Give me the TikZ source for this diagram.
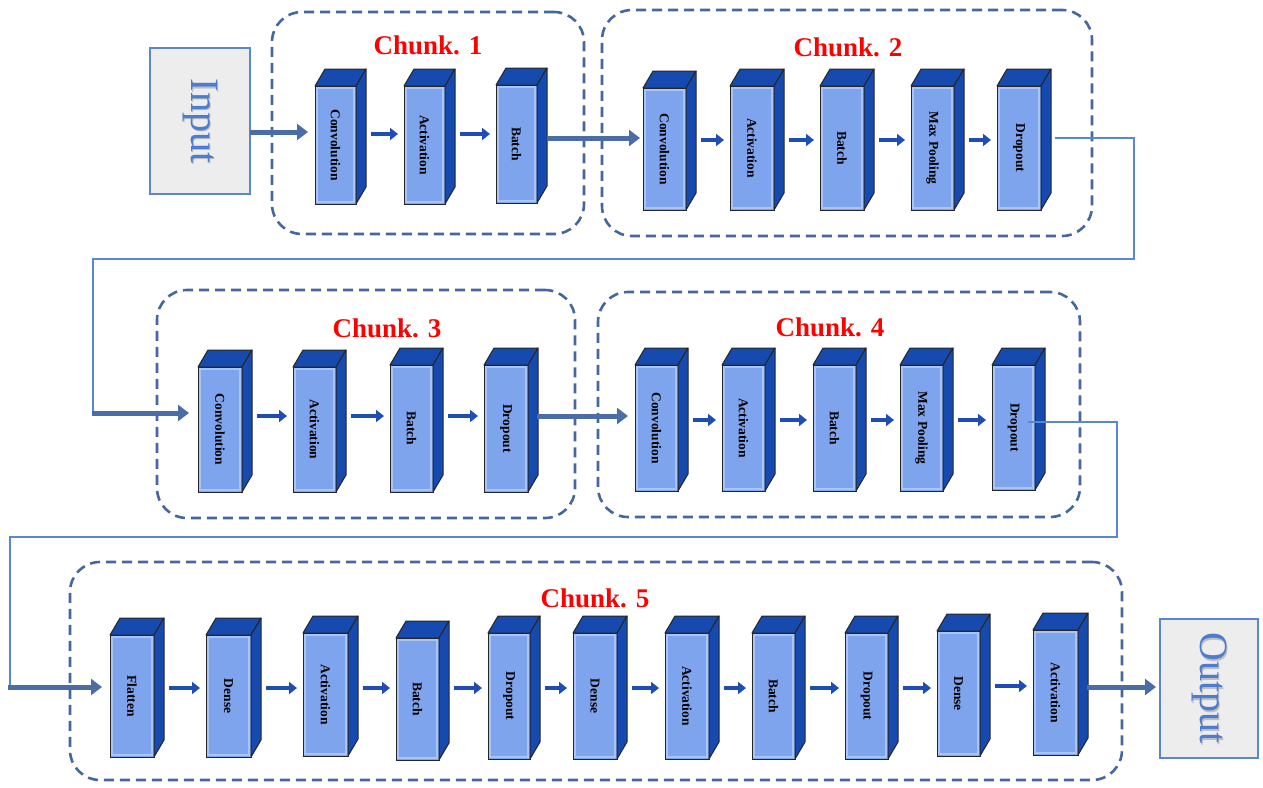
\documentclass[tikz,border=0pt]{standalone}
\usepackage{fontspec}
\setmainfont{Liberation Serif}
\usetikzlibrary{arrows.meta,calc}

\definecolor{dashblue}{HTML}{43679E}
\definecolor{steelblue}{HTML}{4A6DA7}
\definecolor{lineblue}{HTML}{5987D6}
\definecolor{arrowblue}{HTML}{1D4DB5}
\definecolor{frontblue}{HTML}{7EA4EE}
\definecolor{glowblue}{HTML}{A9C5F7}
\definecolor{darkblue}{HTML}{164AAE}
\definecolor{ioborder}{HTML}{5A86D0}
\definecolor{iofill}{HTML}{EDEDED}
\definecolor{iotext}{HTML}{4E7DD0}

\tikzset{
  front/.style={draw=black!85, line width=1pt, fill=frontblue, inner sep=0pt, outer sep=0pt},
  glow/.style={draw=glowblue, line width=1.2pt},
  face/.style={fill=darkblue, draw=black!85, line width=1pt, line join=round},
  lbl/.style={rotate=-90, font=\bfseries\fontsize{13.5}{15}\selectfont, text=black, inner sep=0pt},
  chunkbox/.style={draw=dashblue, dash pattern=on 10pt off 6pt, line width=2.6pt,
    rounded corners=30pt, inner sep=0pt, outer sep=0pt},
  chunktitle/.style={text=red, font=\bfseries\fontsize{27}{30}\selectfont, inner sep=0pt},
  smallarrow/.style={draw=arrowblue, line width=4pt, -{Triangle[length=8pt,width=12pt]}},
  bigarrow/.style={draw=steelblue, line width=5pt, -{Triangle[length=11pt,width=16pt]}},
  thinline/.style={draw=lineblue, line width=2pt, line join=miter},
  iobox/.style={draw=ioborder, fill=iofill, line width=2.5pt, inner sep=0pt, outer sep=0pt},
  iolabel/.style={rotate=-90, text=iotext, font=\fontsize{40}{44}\selectfont, inner sep=0pt},
}

% a layer drawn as a box: name, left x, right x, top y, bottom y, label
\newcommand{\layer}[6]{%
  \node[front, minimum width={#3-#2}, minimum height={#5-#4}] (#1)
    at ({(#2+#3)/2},{(#4+#5)/2}) {};
  \draw[glow] ([shift={(2,2)}]#1.north west) rectangle ([shift={(-2,-2)}]#1.south east);
  \filldraw[face] (#1.north west) -- (#1.north east) -- ++(10,-17)
    -- ([shift={(10,-17)}]#1.north west) -- cycle;
  \filldraw[face] (#1.north east) -- (#1.south east) -- ++(10,-17)
    -- ([shift={(10,-17)}]#1.north east) -- cycle;
  \node[lbl] at (#1) {#6};
}

% dashed group frame: name, left x, right x, top y, bottom y
\newcommand{\chunkframe}[5]{%
  \node[chunkbox, minimum width={#3-#2}, minimum height={#5-#4}] (#1)
    at ({(#2+#3)/2},{(#4+#5)/2}) {};
}

% short arrow between two layers of a row at height #3
\newcommand{\link}[3]{%
  \draw[smallarrow] ($(#1.east |- 0,#3)+(15,0)$) -- ($(#2.west |- 0,#3)+(-6,0)$);
}

\begin{document}
\begin{tikzpicture}[x=1pt,y=-1pt]
\useasboundingbox (0,0) rectangle (1263,787);

% group frames
\chunkframe{ch1}{272}{584}{12}{234}
\chunkframe{ch2}{602}{1092}{10}{236}
\chunkframe{ch3}{157}{575}{290}{518}
\chunkframe{ch4}{598}{1080}{292}{517}
\chunkframe{ch5}{70}{1122}{562}{780}

\node[chunktitle] (t1) at (428,45) {Chunk. 1};
\node[chunktitle] (t2) at (848,47) {Chunk. 2};
\node[chunktitle] (t3) at (387,328) {Chunk. 3};
\node[chunktitle] (t4) at (830,327) {Chunk. 4};
\node[chunktitle] (t5) at (595,598) {Chunk. 5};

% input and output
\node[iobox, minimum width=100, minimum height=146] (in) at (200,121) {};
\node[iolabel, text=black!25] at ([shift={(1.5,1.5)}]in.center) {Input};
\node[iolabel] at (in.center) {Input};
\node[iobox, minimum width=98, minimum height=139] (out) at (1209,688.5) {};
\node[iolabel, text=black!25] at ([shift={(1.5,1.5)}]out.center) {Output};
\node[iolabel] at (out.center) {Output};

% chunk 1
\layer{c1a}{315}{356}{86}{204}{Convolution}
\layer{c1b}{404}{445}{86}{204}{Activation}
\layer{c1c}{496}{537}{85}{203}{Batch}

% chunk 2
\layer{c2a}{643}{686}{88}{210}{Convolution}
\layer{c2b}{730}{774}{86}{210}{Activation}
\layer{c2c}{820}{864}{86}{210}{Batch}
\layer{c2d}{911}{954}{86}{210}{Max Pooling}
\layer{c2e}{997}{1041}{86}{210}{Dropout}

% chunk 3
\layer{c3a}{198}{242}{367}{492}{Convolution}
\layer{c3b}{293}{336}{367}{492}{Activation}
\layer{c3c}{390}{433}{365}{492}{Batch}
\layer{c3d}{484}{528}{365}{492}{Dropout}

% chunk 4
\layer{c4a}{635}{678}{365}{491}{Convolution}
\layer{c4b}{722}{765}{365}{491}{Activation}
\layer{c4c}{813}{856}{365}{491}{Batch}
\layer{c4d}{900}{943}{365}{491}{Max Pooling}
\layer{c4e}{992}{1035}{365}{490}{Dropout}

% chunk 5
\layer{c5a}{110}{154}{635}{757}{Flatten}
\layer{c5b}{206}{251}{635}{757}{Dense}
\layer{c5c}{303}{348}{633}{756}{Activation}
\layer{c5d}{396}{439}{638}{760}{Batch}
\layer{c5e}{488}{530}{633}{759}{Dropout}
\layer{c5f}{573}{617}{633}{759}{Dense}
\layer{c5g}{665}{709}{633}{759}{Activation}
\layer{c5h}{752}{795}{633}{759}{Batch}
\layer{c5i}{845}{888}{633}{759}{Dropout}
\layer{c5j}{937}{980}{631}{756}{Dense}
\layer{c5k}{1033}{1078}{630}{755}{Activation}

% arrows inside the groups
\link{c1a}{c1b}{134}
\link{c1b}{c1c}{134}
\link{c2a}{c2b}{140}
\link{c2b}{c2c}{140}
\link{c2c}{c2d}{140}
\link{c2d}{c2e}{140}
\link{c3a}{c3b}{416}
\link{c3b}{c3c}{416}
\link{c3c}{c3d}{416}
\link{c4a}{c4b}{420}
\link{c4b}{c4c}{420}
\link{c4c}{c4d}{420}
\link{c4d}{c4e}{420}
\link{c5a}{c5b}{688}
\link{c5b}{c5c}{688}
\link{c5c}{c5d}{688}
\link{c5d}{c5e}{688}
\link{c5e}{c5f}{688}
\link{c5f}{c5g}{688}
\link{c5g}{c5h}{688}
\link{c5h}{c5i}{688}
\link{c5i}{c5j}{688}
\link{c5j}{c5k}{686}

% connections between groups
\draw[bigarrow] (in.east |- 0,132) -- ($(c1a.west |- 0,132)+(-7,0)$);
\draw[bigarrow] ($(c1c.east |- 0,138)+(11,0)$) -- ($(c2a.west |- 0,138)+(-3,0)$);

\coordinate (r1a) at (1134,138);
\coordinate (r1b) at (1134,259);
\coordinate (r1c) at (93,259);
\coordinate (r1d) at (93,413);
\draw[thinline] ($(c2e.east |- 0,138)+(14,0)$) -- (r1a) -- (r1b) -- (r1c) -- (r1d);
\draw[bigarrow] ([xshift=-1pt]r1d) -- ($(c3a.west |- 0,413)+(-9,0)$);

\draw[bigarrow] ($(c3d.east |- 0,416)+(9,0)$) -- ($(c4a.west |- 0,416)+(-7,0)$);

\coordinate (r2a) at (1117,422);
\coordinate (r2b) at (1117,537);
\coordinate (r2c) at (10,537);
\coordinate (r2d) at (10,687);
\draw[thinline] ($(c4e.east |- 0,422)+(-7,0)$) -- (r2a) -- (r2b) -- (r2c) -- (r2d);
\draw[bigarrow] ([xshift=-2pt]r2d) -- ($(c5a.west |- 0,687)+(-8,0)$);

\draw[bigarrow] ($(c5k.east |- 0,687)+(9,0)$) -- ($(out.west |- 0,687)+(-4,0)$);

\end{tikzpicture}
\end{document}
